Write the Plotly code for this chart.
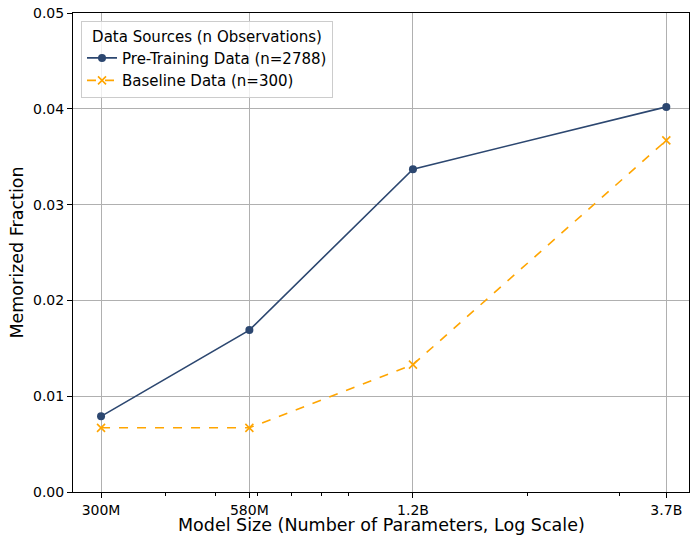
import plotly.graph_objects as go

# Model sizes (parameters) and their tick labels
model_params = [3.0e8, 5.8e8, 1.2e9, 3.7e9]
model_labels = ["300M", "580M", "1.2B", "3.7B"]

# Memorized fraction per model size
pretrain_frac = [0.0079, 0.0169, 0.0337, 0.0402]
baseline_frac = [0.0067, 0.0067, 0.0133, 0.0367]

pretrain_name = "Pre-Training Data (n=2788)"
baseline_name = "Baseline Data (n=300)"

x_title = "Model Size (Number of Parameters, Log Scale)"
y_title = "Memorized Fraction"

y_ticks = [0.0, 0.01, 0.02, 0.03, 0.04, 0.05]
minor_x = [4e8, 5e8, 6e8, 7e8, 8e8, 9e8, 2e9, 3e9]

NAVY = "#2c4770"
ORANGE = "#ffa500"
FONT = "DejaVu Sans"

fig = go.Figure()
fig.add_trace(go.Scatter(
    x=model_params, y=pretrain_frac, name=pretrain_name,
    mode="lines+markers",
    line=dict(color=NAVY, width=1.6),
    marker=dict(symbol="circle", size=8, color=NAVY),
))
fig.add_trace(go.Scatter(
    x=model_params, y=baseline_frac, name=baseline_name,
    mode="lines+markers",
    line=dict(color=ORANGE, width=1.6, dash="dash"),
    marker=dict(symbol="x-thin", size=8, color=ORANGE,
                line=dict(color=ORANGE, width=1.6)),
))

fig.update_layout(
    width=690, height=536,
    margin=dict(l=73, r=1, t=13, b=44),
    paper_bgcolor="white", plot_bgcolor="white",
    font=dict(family=FONT, size=14, color="black"),
    showlegend=True,
    legend=dict(
        title=dict(text="Data Sources (n Observations)", font=dict(size=15),
                   side="top center"),
        x=0.013, y=0.983, xanchor="left", yanchor="top",
        bgcolor="rgba(255,255,255,0.8)", bordercolor="#cccccc", borderwidth=1,
        font=dict(size=15), tracegroupgap=0, itemwidth=30,
    ),
)

# x-axis title sits low, close to the bottom edge of the figure
fig.add_annotation(
    text=x_title, xref="paper", yref="paper", x=0.5, y=0,
    xanchor="center", yanchor="middle", yshift=-33, showarrow=False,
    font=dict(size=17.5, family=FONT, color="black"),
)

fig.update_xaxes(
    type="log",
    range=[8.423, 9.612],
    automargin=False,
    tickmode="array", tickvals=model_params, ticktext=model_labels,
    ticks="outside", ticklen=5, tickwidth=1, tickcolor="black",
    showgrid=True, gridcolor="#b0b0b0", gridwidth=1,
    showline=True, linecolor="black", linewidth=1, mirror=True,
    zeroline=False,
    tickfont=dict(size=14),
    minor=dict(tickmode="array", tickvals=minor_x, ticks="outside",
               ticklen=3, tickwidth=1, tickcolor="black", showgrid=False),
)

fig.update_yaxes(
    range=[0, 0.05],
    automargin=False,
    tickmode="array", tickvals=y_ticks, tickformat=".2f",
    ticks="outside", ticklen=5, tickwidth=1, tickcolor="black",
    showgrid=True, gridcolor="#b0b0b0", gridwidth=1,
    showline=True, linecolor="black", linewidth=1, mirror=True,
    zeroline=False,
    tickfont=dict(size=14),
    title=dict(text=y_title, font=dict(size=17.5), standoff=4),
)

fig.write_html("out.html")
